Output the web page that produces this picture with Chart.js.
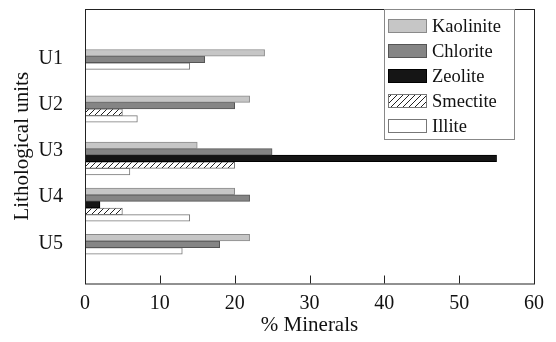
<!DOCTYPE html>
<html>
<head>
<meta charset="utf-8">
<script src="https://cdn.jsdelivr.net/npm/chart.js@4"></script>
<style>
  html, body { margin: 0; padding: 0; background: #fff; }
  #wrap { width: 556px; height: 342px; }
</style>
</head>
<body>
<div id="wrap"><canvas id="chart"></canvas></div>
<script>
// ===== DATA =====
const UNITS     = ['U1', 'U2', 'U3', 'U4', 'U5'];
const MINERALS  = ['Kaolinite', 'Chlorite', 'Zeolite', 'Smectite', 'Illite'];
const KAOLINITE = [24, 22, 15, 20, 22];
const CHLORITE  = [16, 20, 25, 22, 18];
const ZEOLITE   = [null, null, 55, 2, null];
const SMECTITE  = [null, 5, 20, 5, null];
const ILLITE    = [14, 7, 6, 14, 13];
const X_TICKS   = [0, 10, 20, 30, 40, 50, 60];

const SERIES = [KAOLINITE, CHLORITE, ZEOLITE, SMECTITE, ILLITE];

// ===== STYLE =====
const FONT = 'Liberation Serif';
const INK = '#111';
const SLOT = 1 / 7;          // one bar row, in unit steps
const FIRST_ROW = -0.85;     // first bar sits just above the unit label

const canvas = document.getElementById('chart');
const ctx = canvas.getContext('2d');

// diagonal hatch for smectite
function makeHatch() {
  const c = document.createElement('canvas');
  c.width = 6; c.height = 6;
  const g = c.getContext('2d');
  g.fillStyle = '#fff';
  g.fillRect(0, 0, 6, 6);
  g.strokeStyle = '#222';
  g.lineWidth = 1;
  g.beginPath();
  g.moveTo(0, 6); g.lineTo(6, 0);
  g.moveTo(-3, 3); g.lineTo(3, -3);
  g.moveTo(3, 9); g.lineTo(9, 3);
  g.stroke();
  return ctx.createPattern(c, 'repeat');
}

const FILLS   = ['#c6c6c6', '#858585', '#151515', makeHatch(), '#ffffff'];
const BORDERS = ['#8a8a8a', '#555555', '#000000', '#777777', '#777777'];

// bars stack downward from the top of each unit, skipping empty minerals
function rowData(k) {
  const out = [];
  UNITS.forEach((u, i) => {
    const v = SERIES[k][i];
    if (v == null) return;
    const rank = SERIES.slice(0, k).filter(s => s[i] != null).length;
    out.push({ x: v, y: i + 1 + (rank + FIRST_ROW) * SLOT });
  });
  return out;
}

// frame around plot + inward ticks on the bottom axis
const frame = {
  id: 'frame',
  afterDatasetsDraw(chart) {
    const { ctx, chartArea: a, scales: { x } } = chart;
    ctx.save();
    ctx.strokeStyle = '#222';
    ctx.lineWidth = 1;
    ctx.strokeRect(a.left + 0.5, a.top + 0.5, a.right - a.left, a.bottom - a.top);
    ctx.beginPath();
    X_TICKS.slice(1, -1).forEach(v => {
      const px = Math.round(x.getPixelForValue(v)) + 0.5;
      ctx.moveTo(px, a.bottom);
      ctx.lineTo(px, a.bottom - 8);
    });
    ctx.stroke();
    ctx.restore();
  }
};

// legend box inside the plot, top right
const legendBox = {
  id: 'legendBox',
  afterDraw(chart) {
    const { ctx, chartArea: a } = chart;
    const w = 130, h = 130;
    const left = a.right - 20 - w, top = a.top;
    ctx.save();
    ctx.fillStyle = '#fff';
    ctx.fillRect(left, top, w, h);
    ctx.strokeStyle = '#888';
    ctx.lineWidth = 1;
    ctx.strokeRect(left + 0.5, top + 0.5, w, h);
    ctx.font = '18.5px "' + FONT + '"';
    ctx.textBaseline = 'middle';
    chart.data.datasets.forEach((ds, k) => {
      const cy = top + 17 + k * 25;
      ctx.fillStyle = ds.backgroundColor;
      ctx.fillRect(left + 4, cy - 7, 39, 14);
      ctx.strokeStyle = ds.borderColor;
      ctx.strokeRect(left + 4.5, cy - 6.5, 38, 13);
      ctx.fillStyle = INK;
      ctx.fillText(ds.label, left + 48, cy + 1);
    });
    ctx.restore();
  }
};

new Chart(ctx, {
  type: 'bar',
  data: {
    datasets: MINERALS.map((m, k) => ({
      label: m,
      data: rowData(k),
      backgroundColor: FILLS[k],
      borderColor: BORDERS[k],
      borderWidth: 1,
      borderSkipped: false,
      barThickness: 6.6,
      grouped: false
    }))
  },
  options: {
    indexAxis: 'y',
    responsive: true,
    maintainAspectRatio: false,
    animation: false,
    layout: { padding: { top: 9, right: 22, left: 0, bottom: 0 } },
    plugins: { legend: { display: false }, tooltip: { enabled: false } },
    scales: {
      x: {
        type: 'linear', min: 0, max: 60, offset: false,
        grid: { display: false }, border: { display: false },
        afterBuildTicks: s => { s.ticks = X_TICKS.map(v => ({ value: v })); },
        ticks: { padding: 0, color: INK, font: { family: FONT, size: 20 } },
        title: { display: true, text: '% Minerals', color: INK, font: { family: FONT, size: 21 }, padding: { top: 0, bottom: 4 } },
        afterFit: s => { s.height = 58.5; s.paddingLeft = 0; s.paddingRight = 0; }
      },
      y: {
        type: 'linear', reverse: true, min: -0.07, max: 5.87, offset: false,
        grid: { display: false }, border: { display: false },
        afterBuildTicks: s => { s.ticks = UNITS.map((u, i) => ({ value: i + 1 })); },
        ticks: { padding: 14, color: INK, font: { family: FONT, size: 20 }, callback: v => UNITS[v - 1] },
        title: { display: true, text: 'Lithological units', color: INK, font: { family: FONT, size: 21 }, padding: { top: 10, bottom: 0 } },
        afterFit: s => { s.width = 85; s.paddingTop = 0; s.paddingBottom = 0; }
      }
    }
  },
  plugins: [frame, legendBox]
});
</script>
</body>
</html>
